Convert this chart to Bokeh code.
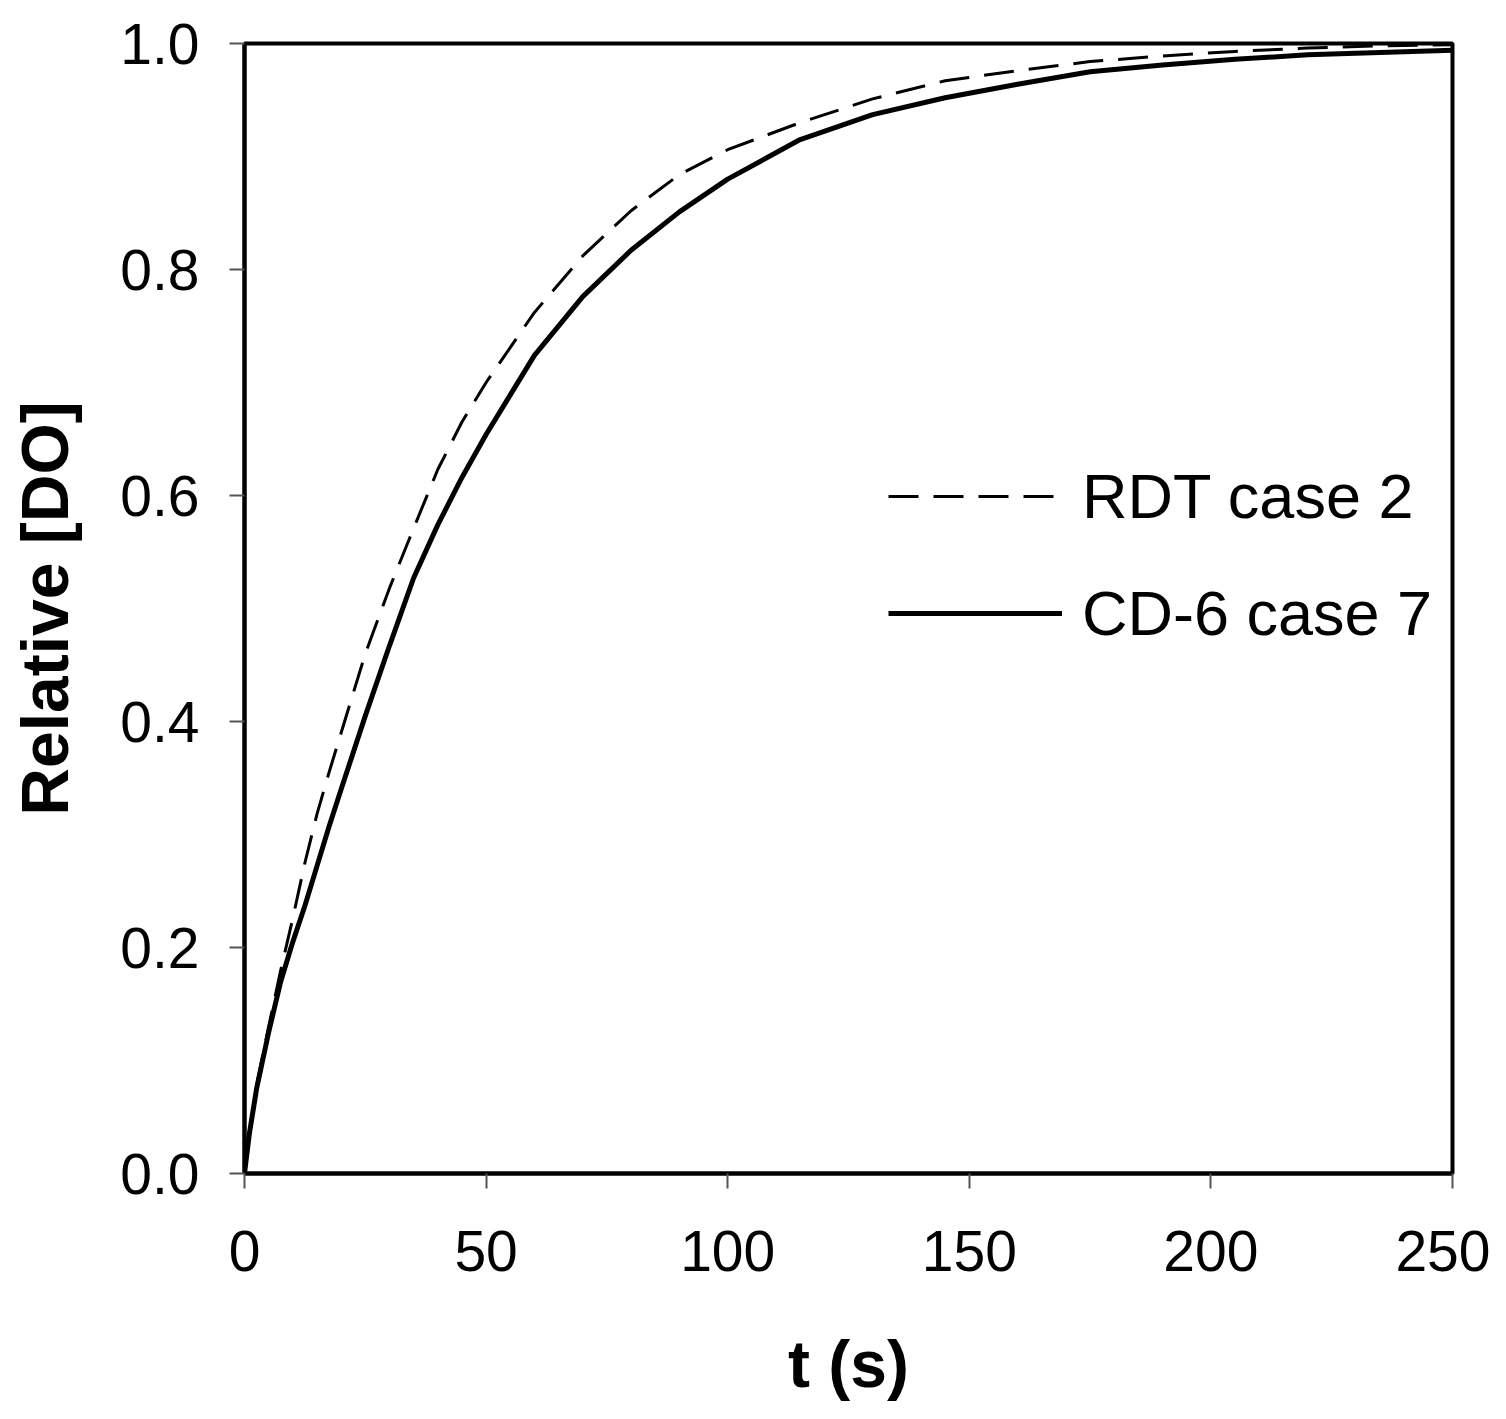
from bokeh.plotting import figure
from bokeh.models import Range1d, FixedTicker, PrintfTickFormatter, Legend, LegendItem
from bokeh.embed import file_html
from bokeh.resources import INLINE

# ---- data ----
t_cd6 = [0, 1, 2.5, 5, 7.5, 10, 12.5, 15, 17.5, 20, 25, 30, 35, 40, 45, 50, 60, 70, 80, 90,
         100, 115, 130, 145, 160, 175, 190, 205, 220, 235, 250]
do_cd6 = [0.0, 0.035, 0.075, 0.125, 0.17, 0.205, 0.237, 0.272, 0.307, 0.34, 0.405, 0.467, 0.527,
          0.574, 0.616, 0.654, 0.724, 0.776, 0.817, 0.851, 0.88, 0.915, 0.937, 0.952, 0.964,
          0.975, 0.981, 0.986, 0.99, 0.992, 0.994]

t_rdt = [0, 1, 2.5, 5, 7.5, 10, 12.5, 15, 17.5, 20, 25, 30, 35, 40, 45, 50, 60, 70, 80, 90,
         100, 115, 130, 145, 160, 175, 190, 205, 220, 235, 250]
do_rdt = [0.0, 0.035, 0.078, 0.13, 0.18, 0.226, 0.275, 0.318, 0.355, 0.39, 0.46, 0.518, 0.571,
          0.623, 0.665, 0.7, 0.762, 0.812, 0.852, 0.884, 0.906, 0.93, 0.951, 0.967, 0.976,
          0.984, 0.989, 0.993, 0.996, 0.998, 0.999]

x_ticks = [0, 50, 100, 150, 200, 250]
y_ticks = [0.0, 0.2, 0.4, 0.6, 0.8, 1.0]
series_labels = ["RDT case 2", "CD-6 case 7"]

FONT = "Liberation Sans"

p = figure(width=1490, height=1403, output_backend="svg", toolbar_location=None,
           x_range=Range1d(0, 250), y_range=Range1d(0, 1.0),
           min_border_left=244, min_border_right=38, min_border_top=43, min_border_bottom=221)

p.grid.visible = False
p.background_fill_color = "white"
p.border_fill_color = "white"
p.outline_line_color = "black"
p.outline_line_width = 4

r_rdt = p.line(t_rdt, do_rdt, line_color="black", line_width=3, line_dash="30 15")
r_cd6 = p.line(t_cd6, do_cd6, line_color="black", line_width=5)

for ax in (p.xaxis[0], p.yaxis[0]):
    ax.axis_line_color = "black"
    ax.axis_line_width = 4
    ax.major_tick_line_color = "#555555"
    ax.major_tick_line_width = 2
    ax.major_tick_out = 15
    ax.major_tick_in = 0
    ax.minor_tick_line_color = None
    ax.major_label_text_font = FONT
    ax.major_label_text_font_size = "57px"
    ax.major_label_text_color = "black"
    ax.axis_label_text_font = FONT
    ax.axis_label_text_font_style = "bold"
    ax.axis_label_text_font_size = "66px"
    ax.axis_label_text_color = "black"

p.xaxis.ticker = FixedTicker(ticks=x_ticks)
p.yaxis.ticker = FixedTicker(ticks=y_ticks)
p.yaxis.formatter = PrintfTickFormatter(format="%.1f")
p.xaxis.axis_label = "t (s)"
p.yaxis.axis_label = "Relative [DO]"
p.xaxis.major_label_standoff = 42
p.yaxis.major_label_standoff = 30
p.xaxis.axis_label_standoff = 53
p.yaxis.axis_label_standoff = 35

legend = Legend(items=[LegendItem(label=series_labels[0], renderers=[r_rdt]),
                       LegendItem(label=series_labels[1], renderers=[r_cd6])],
                location=(644, 520), orientation="vertical",
                glyph_width=174, glyph_height=80, label_height=80,
                label_standoff=20, spacing=37, padding=0, margin=0,
                border_line_color=None, background_fill_alpha=0,
                label_text_font=FONT, label_text_font_size="63px", label_text_color="black")
p.add_layout(legend)

open("out.html", "w").write(file_html(p, INLINE))
